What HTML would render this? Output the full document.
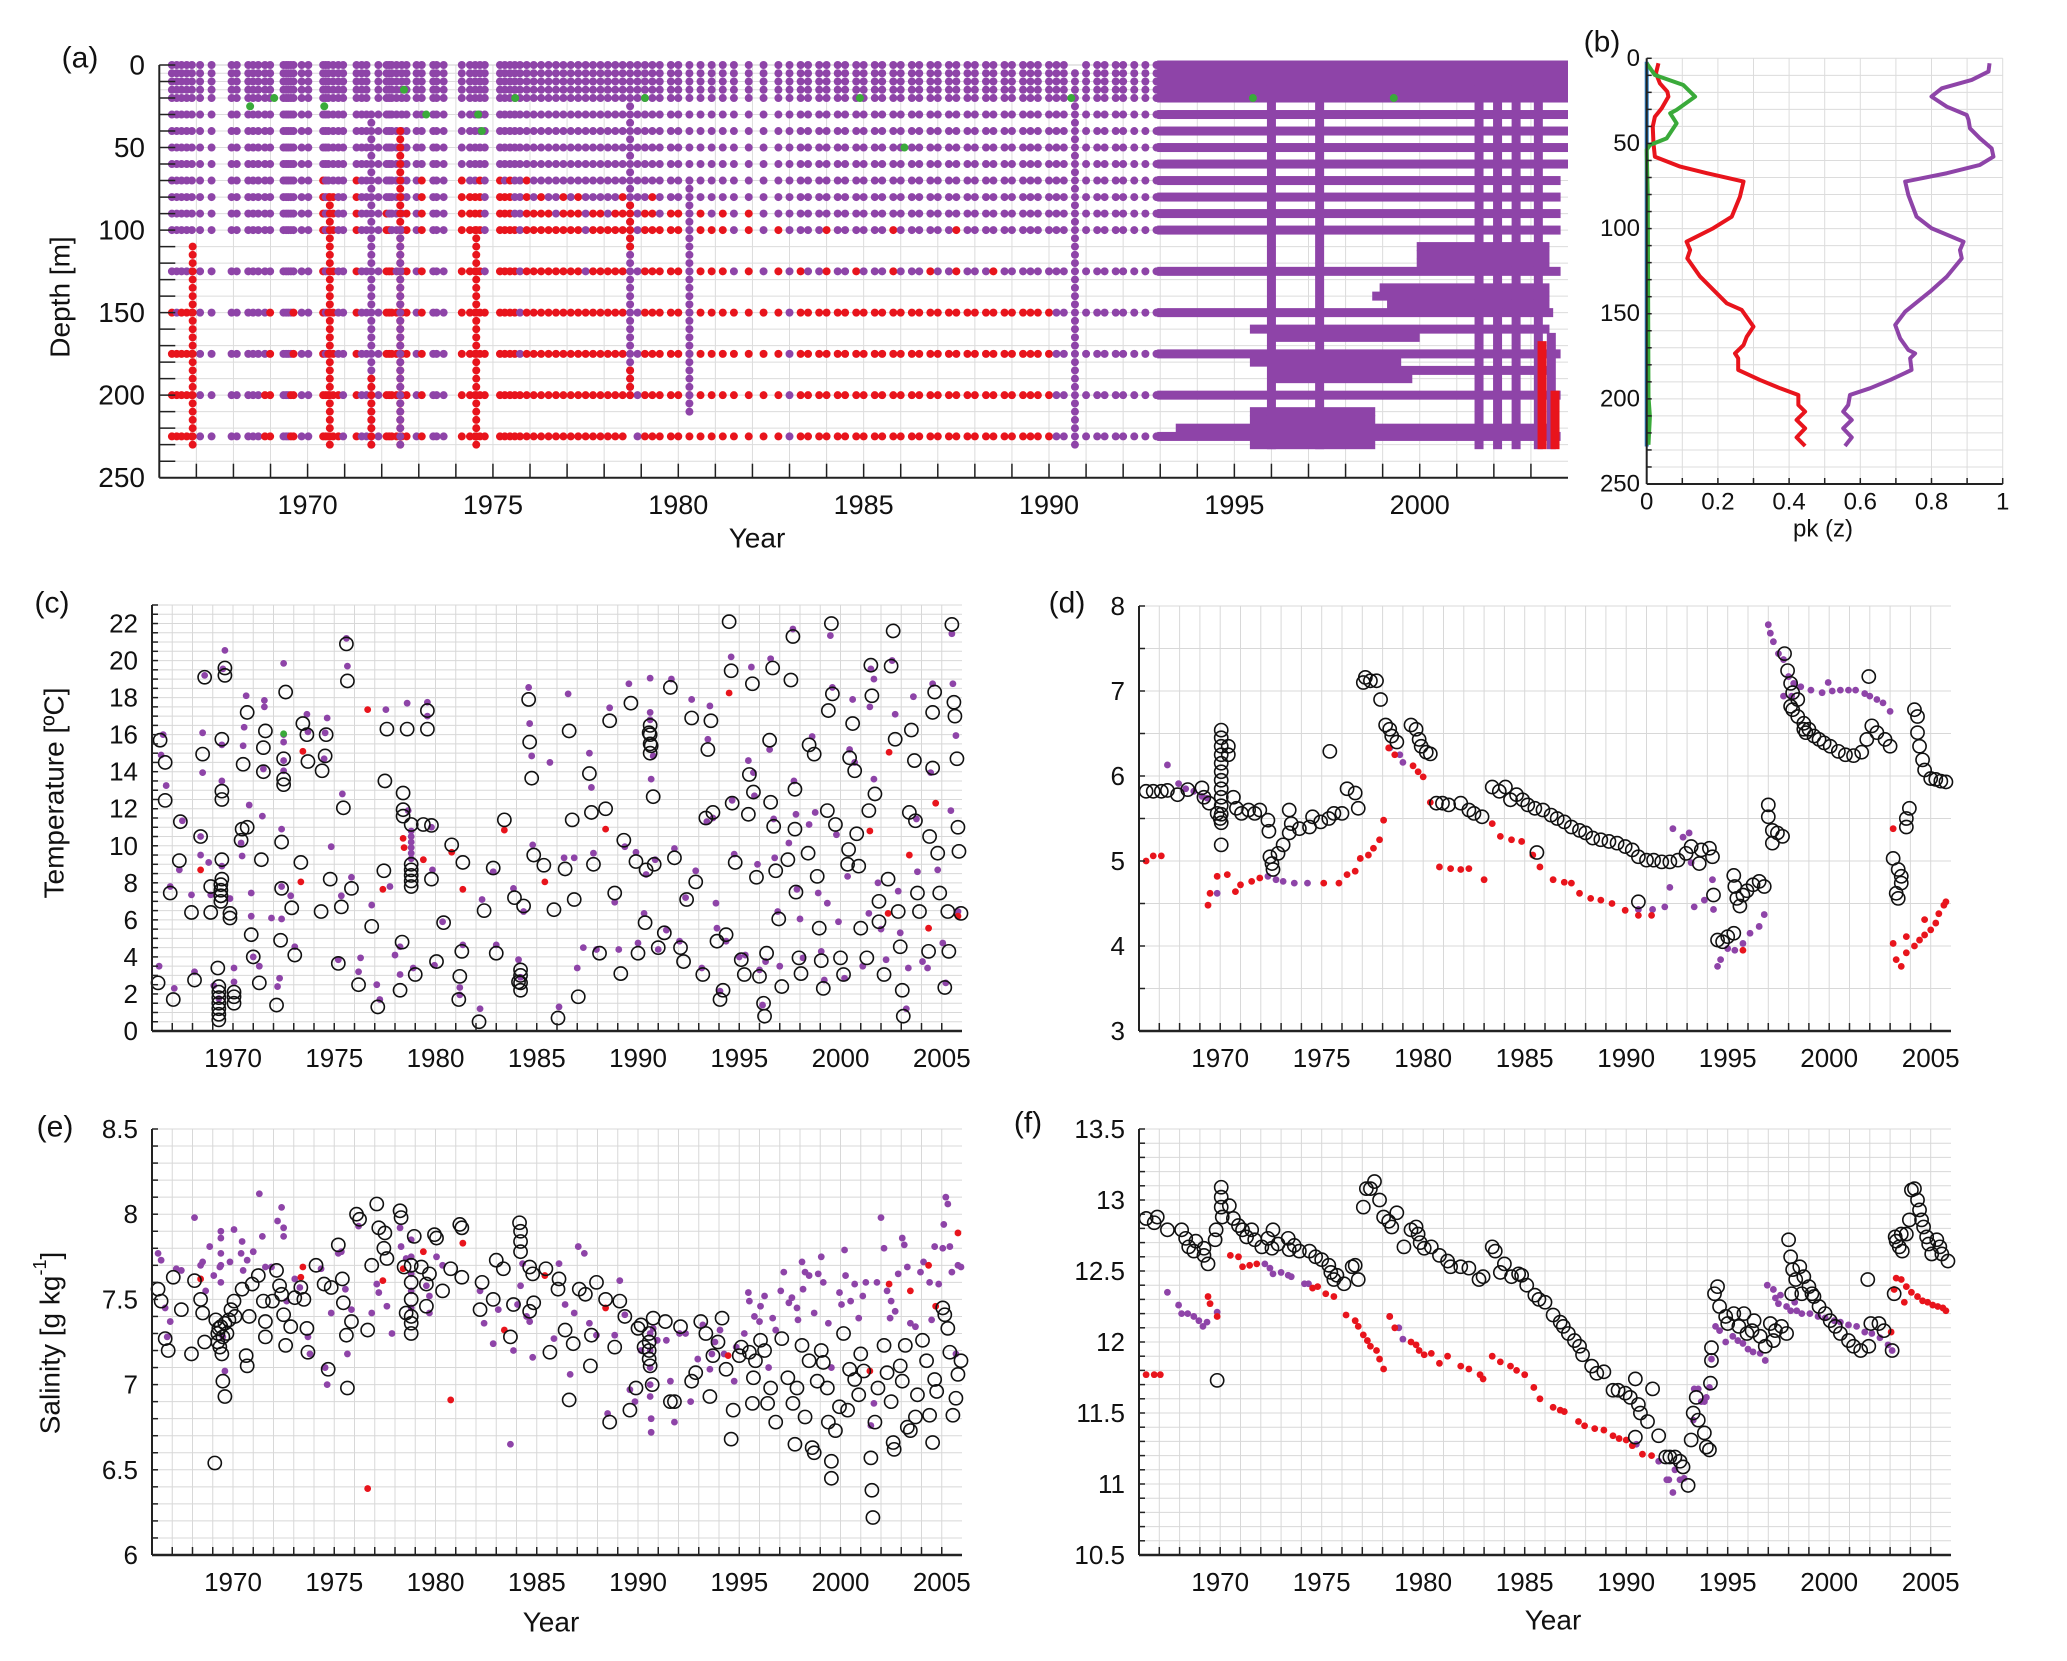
<!DOCTYPE html>
<html><head><meta charset="utf-8"><style>
html,body{margin:0;padding:0;background:#fff;}
svg{display:block;font-family:"Liberation Sans",sans-serif;}
</style></head><body>
<svg id="fig" xmlns="http://www.w3.org/2000/svg" width="2067" height="1661" viewBox="0 0 2067 1661"></svg>
<script>
// ---------- Panel (a) data ----------
const aDepths=[0,5,10,15,20,30,40,50,60,70,80,90,100,125,150,175,200,225];
const aCastYears=[1966.34,1966.47,1966.6,1966.74,1966.88,1967.1,1967.41,1967.95,1968.09,1968.4,1968.53,1968.67,1968.85,1968.99,1969.35,1969.42,1969.48,1969.55,1969.62,1969.84,1970.02,1970.42,1970.49,1970.56,1970.69,1970.83,1970.96,1971.32,1971.46,1971.59,1971.91,1972.13,1972.2,1972.27,1972.4,1972.54,1972.67,1972.94,1973.08,1973.39,1973.48,1973.67,1974.16,1974.38,1974.52,1974.65,1974.78,1975.19,1975.32,1975.46,1975.59,1975.73,1975.91,
1976.1,1976.3,1976.5,1976.7,1976.9,1977.1,1977.3,1977.5,1977.7,1977.9,1978.1,1978.3,1978.5,1978.9,1979.1,1979.3,1979.5,1979.8,1980.0,1980.3,1980.6,1980.9,1981.2,1981.5,1981.9,1982.3,1982.7,1983.0,1983.3,1983.5,1983.8,1984.0,1984.3,1984.5,1984.8,1985.0,1985.3,1985.5,1985.8,1986.0,1986.3,1986.5,1986.8,1987.0,1987.3,1987.5,1987.8,1988.0,1988.3,1988.5,1988.8,1989.0,1989.3,1989.5,1989.7,1990.0,1990.2,1990.4,1991.0,1991.3,1991.5,1991.8,1992.0,1992.3,1992.6,1992.9];
const aCastRedFrom=[150,175,150,150,150,999,999,999,999,999,999,999,200,150,999,999,999,200,150,999,999,70,200,150,80,200,999,70,999,999,999,90,100,125,150,150,90,999,70,999,999,999,70,80,80,70,150,70,80,70,100,200,70,
90,80,90,100,80,90,80,150,90,90,100,90,80,999,90,80,100,90,90,150,90,100,90,150,90,150,100,999,125,150,150,100,150,150,125,150,150,150,100,150,150,150,125,150,150,100,150,150,150,125,150,150,150,150,150,150,999,999,999,999,999,999,999,999,999];
const aProfiles=[[1966.9,'r',110,230],[1970.6,'r',80,230],[1971.72,'p',30,230],[1971.72,'r',190,230],[1972.5,'r',40,230],[1972.5,'p',100,230],[1974.55,'r',100,230],[1978.7,'p',0,200],[1978.7,'r',85,110],[1978.7,'r',185,200],[1980.3,'p',70,210],[1990.7,'p',5,230]];
const aGreen=[[1968.45,25],[1969.1,20],[1970.45,25],[1972.6,15],[1973.2,30],[1974.6,30],[1974.7,40],[1975.6,20],[1979.1,20],[1984.9,20],[1986.1,50],[1990.6,20],[1995.5,20],[1999.3,20]];
const aRows=[[1993.0,2004.0,0],[1993.0,2004.0,5],[1993.0,2004.0,10],[1993.0,2004.0,15],[1993.0,2004.0,20],[1993.0,2004.0,30],[1993.0,2004.0,40],[1993.0,2004.0,50],[1993.0,2004.0,60],[1993.0,2003.8,70],[1993.0,2003.8,80],[1993.0,2003.8,90],[1993.0,2003.8,100],[2000.0,2003.5,110],[2000.0,2003.5,115],[2000.0,2003.5,120],[1993.0,2003.8,125],[1999.0,2003.5,135],[1998.8,2003.5,140],[1999.2,2003.5,145],[1993.0,2003.6,150],[1995.5,2003.5,160],[1996.0,2000.0,165],[1993.0,2003.8,175],[1995.5,1999.5,180],[1996.0,2003.5,185],[1996.0,1999.8,190],[1993.0,2003.8,200],[1995.5,1998.8,210],[1995.5,1998.8,215],[1993.5,2003.6,220],[1993.0,2003.8,225],[1995.5,1998.8,230]];
const aBars=[[1996.0,0,230,'p'],[1997.3,0,230,'p'],[2001.6,0,230,'p'],[2002.1,0,230,'p'],[2002.6,0,230,'p'],[2003.2,0,230,'p'],[2003.55,165,230,'p'],[2003.3,170,230,'r'],[2003.65,200,230,'r']];

// ---------- Panel (b) data ----------
const bPurple=[[0.963,2.9],[0.96,7.8],[0.913,12.7],[0.829,17.6],[0.8,22.5],[0.843,28.4],[0.899,33.3],[0.904,36.2],[0.908,41.1],[0.936,47],[0.969,52.9],[0.974,57.8],[0.936,62.6],[0.843,67.5],[0.726,72.4],[0.735,80.3],[0.758,93],[0.8,99.8],[0.89,107.7],[0.88,112.6],[0.885,117.5],[0.843,128.2],[0.796,137],[0.749,144.9],[0.726,148.8],[0.698,156.6],[0.712,164.5],[0.735,171.3],[0.754,173.3],[0.74,176.2],[0.744,183],[0.684,188.9],[0.627,193.8],[0.571,197.7],[0.566,203.6],[0.552,207.5],[0.576,212.4],[0.552,217.3],[0.576,222.6],[0.557,227.7]];
const bRed=[[0.033,2.9],[0.026,8.8],[0.037,14.7],[0.058,19.6],[0.061,22.5],[0.042,29.4],[0.023,34.3],[0.017,40.1],[0.019,49.9],[0.023,57.8],[0.094,63.6],[0.169,67.5],[0.272,72.4],[0.262,81.2],[0.239,93],[0.187,99.8],[0.112,107.7],[0.122,112.6],[0.114,117.5],[0.15,128.2],[0.192,137],[0.225,143.9],[0.267,147.8],[0.3,157.6],[0.281,163.5],[0.272,168.4],[0.248,173.3],[0.257,176.2],[0.257,183],[0.318,188.9],[0.375,193.8],[0.426,197.7],[0.426,203.6],[0.445,207.5],[0.421,212.4],[0.445,217.3],[0.421,222.6],[0.445,227.7]];
const bGreen=[[0,2.9],[0.023,9.8],[0.103,15.7],[0.136,22.5],[0.084,30.3],[0.066,32.3],[0.084,38.2],[0.056,47],[0.009,50.9],[0,53.8],[0.003,81.2],[0.005,198.7],[0.009,210.4],[0.005,227]];
const bBlue=[[0,2],[0,228]];

// ---------- Panel (c) temperature scatter ----------
const cBlack=[[1966.4,15.7],[1966.65,14.5],[1966.65,12.45],[1967.4,11.3],[1967.35,9.2],[1966.3,2.6],[1967.05,1.7],[1966.9,7.45],[1967.95,6.4],[1968.1,2.75],[1968.4,10.5],[1968.5,14.95],[1968.6,19.1],[1969.6,19.2],[1969.6,19.6],[1969.45,15.75],[1969.45,12.95],[1969.45,12.5],[1968.9,7.8],[1968.9,6.4],[1969.45,9.25],[1969.45,8.2],[1969.4,7.3],[1969.85,6.35],[1969.85,6.1],[1969.25,3.4],[1970.05,1.85],[1970.7,17.2],[1970.5,14.4],[1970.45,10.9],[1970.7,11.0],[1970.4,10.3],[1971.4,9.25],[1971.6,16.2],[1971.5,15.3],[1971.5,14.0],[1972.5,14.7],[1972.5,13.6],[1972.5,13.3],[1972.6,18.3],[1972.4,10.2],[1972.4,7.7],[1972.9,6.65],[1970.9,5.2],[1971.0,4.0],[1971.3,2.6],[1972.15,1.4],[1972.35,4.9],[1973.05,4.1],[1973.35,9.1],[1973.45,16.6],[1973.65,16.0],[1973.7,14.55],[1974.4,14.05],[1974.55,14.85],[1974.6,16.0],[1974.8,8.2],[1974.35,6.45],[1975.35,6.7],[1975.85,7.7],[1975.6,20.9],[1975.65,18.9],[1975.45,12.05],[1975.2,3.65],[1976.2,2.5],[1976.85,5.65],[1977.15,1.3],[1977.45,8.65],[1977.5,13.5],[1977.6,16.3],[1978.25,2.2],[1978.35,4.8],[1978.4,12.85],[1978.4,11.95],[1978.4,11.6],[1978.8,11.15],[1978.6,16.3],[1979.6,16.3],[1979.6,17.3],[1979.4,11.15],[1979.8,11.1],[1979.8,8.2],[1979.0,3.05],[1980.05,3.75],[1980.4,5.85],[1980.8,10.05],[1981.35,9.1],[1981.2,2.95],[1981.15,1.7],[1981.3,4.3],[1982.15,0.5],[1982.4,6.5],[1982.85,8.8],[1983.0,4.2],[1983.4,11.4],[1983.9,7.2],[1984.35,6.75],[1984.1,2.65],[1984.2,2.2],[1984.6,17.9],[1984.65,15.6],[1984.75,13.65],[1984.85,9.5],[1985.35,8.95],[1985.85,6.55],[1986.05,0.7],[1986.4,8.75],[1986.6,16.2],[1986.75,11.4],[1986.85,7.1],[1987.05,1.85],[1987.6,13.9],[1987.7,11.8],[1987.8,9.0],[1988.1,4.2],[1988.4,12.0],[1988.6,16.75],[1988.85,7.45],[1989.15,3.1],[1989.3,10.3],[1989.65,17.7],[1989.9,9.15],[1990.0,4.2],[1990.35,5.85],[1990.4,8.7],[1990.55,16.1],[1990.65,15.4],[1990.75,12.65],[1990.8,9.0],[1991.0,4.5],[1991.3,5.3],[1991.6,18.55],[1991.8,9.35],[1992.1,4.5],[1992.25,3.75],[1992.4,7.1],[1992.65,16.9],[1992.85,8.05],[1993.2,3.05],[1993.35,11.5],[1993.45,15.2],[1993.6,16.75],[1993.7,11.8],[1993.9,4.85],[1994.2,2.2],[1994.05,1.7],[1994.35,5.2],[1994.5,22.1],[1994.6,19.45],[1994.65,12.3],[1994.8,9.1],[1995.1,3.85],[1995.25,3.05],[1995.45,11.7],[1995.5,13.85],[1995.65,18.75],[1995.7,12.9],[1995.85,8.3],[1996.0,2.95],[1996.2,1.5],[1996.25,0.8],[1996.35,4.2],[1996.5,15.7],[1996.55,12.35],[1996.65,19.6],[1996.7,11.05],[1996.8,8.65],[1996.95,6.05],[1997.1,2.4],[1997.4,9.25],[1997.55,18.95],[1997.65,21.3],[1997.75,10.9],[1997.75,13.05],[1997.8,7.5],[1997.95,3.95],[1998.05,3.1],[1998.4,9.6],[1998.45,15.45],[1998.7,14.95],[1998.85,8.35],[1998.95,5.55],[1999.05,3.8],[1999.15,2.3],[1999.35,11.9],[1999.4,17.3],[1999.55,22.0],[1999.6,18.2],[1999.75,11.15],[2000.0,3.95],[2000.15,3.05],[2000.35,9.0],[2000.4,9.8],[2000.45,14.75],[2000.6,16.6],[2000.7,14.05],[2000.8,10.65],[2000.9,8.9],[2001.0,5.55],[2001.3,3.95],[2001.4,11.9],[2001.5,19.75],[2001.55,18.1],[2001.7,12.8],[2001.9,7.0],[2001.9,5.9],[2002.15,3.05],[2002.35,8.2],[2002.5,19.7],[2002.6,21.6],[2002.7,15.75],[2002.85,6.45],[2002.95,4.55],[2003.05,2.2],[2003.1,0.8],[2003.4,11.8],[2003.5,16.25],[2003.65,14.6],[2003.7,11.35],[2003.8,7.45],[2003.9,6.45],[2004.35,4.3],[2004.4,10.5],[2004.55,14.2],[2004.65,18.3],[2004.55,17.2],[2004.8,9.6],[2004.9,7.45],[2005.15,2.35],[2005.3,6.45],[2005.35,4.3],[2005.5,21.95],[2005.6,17.75],[2005.65,17.0],[2005.75,14.7],[2005.8,11.0],[2005.85,9.7],[2005.95,6.35],
[1969.3,0.6],[1969.3,0.9],[1969.3,1.2],[1969.3,1.5],[1969.3,1.8],[1969.3,2.1],[1969.3,2.4],[1969.4,7.0],[1969.4,7.3],[1969.4,7.6],[1969.4,7.9],[1970.05,1.5],[1970.05,2.1],[1978.8,7.8],[1978.8,8.1],[1978.8,8.4],[1978.8,8.7],[1978.8,9.0],[1990.6,15.0],[1990.6,15.5],[1990.6,16.0],[1990.6,16.5],[1984.2,2.6],[1984.2,3.0],[1984.2,3.3]];
const cPurple=[[1966.55,16.0],[1966.45,14.9],[1966.7,13.25],[1966.35,3.5],[1967.1,2.3],[1967.5,11.35],[1967.35,8.7],[1966.9,7.8],[1967.95,7.35],[1968.1,3.2],[1968.4,10.5],[1968.5,16.1],[1968.5,13.95],[1968.4,9.5],[1968.6,19.2],[1969.6,20.55],[1969.5,19.55],[1969.45,15.45],[1969.45,13.5],[1969.45,8.9],[1968.9,7.35],[1968.8,9.1],[1969.85,7.15],[1970.05,3.4],[1970.05,2.65],[1969.05,2.45],[1969.3,1.75],[1970.65,18.1],[1970.5,15.4],[1970.55,16.4],[1970.8,12.2],[1971.45,11.6],[1971.55,17.85],[1971.55,17.5],[1970.4,10.15],[1970.45,9.45],[1971.5,14.15],[1972.5,19.85],[1972.5,16.0],[1972.5,15.6],[1972.5,14.6],[1972.5,14.05],[1972.4,10.9],[1972.4,7.8],[1972.85,7.3],[1970.9,7.45],[1970.9,6.2],[1971.0,4.0],[1971.3,3.5],[1971.9,6.1],[1972.4,6.05],[1972.3,2.85],[1972.2,2.4],[1973.05,4.55],[1973.65,17.1],[1973.7,16.15],[1974.55,16.1],[1974.65,16.9],[1974.5,14.7],[1974.85,9.95],[1975.35,7.3],[1975.4,12.8],[1975.85,8.3],[1975.6,21.2],[1975.65,19.7],[1975.2,3.85],[1976.2,3.2],[1976.3,3.95],[1976.85,6.8],[1977.1,2.5],[1977.25,1.7],[1977.55,17.35],[1977.75,7.8],[1978.0,4.1],[1978.25,4.55],[1978.25,3.05],[1978.6,17.7],[1978.65,11.9],[1978.9,3.4],[1979.6,17.75],[1979.6,17.0],[1979.8,11.0],[1979.85,8.7],[1980.35,5.9],[1979.95,3.55],[1981.2,2.35],[1981.35,4.65],[1981.2,1.95],[1982.2,1.2],[1982.3,7.1],[1982.85,8.6],[1983.0,4.65],[1983.85,7.7],[1984.1,3.85],[1984.35,6.45],[1984.6,18.55],[1984.65,16.6],[1984.75,14.85],[1984.8,10.05],[1985.65,14.5],[1986.1,1.3],[1986.35,9.35],[1986.55,18.2],[1986.85,9.35],[1987.0,3.4],[1987.3,4.5],[1987.6,15.0],[1987.7,13.15],[1987.8,9.6],[1987.95,4.4],[1988.6,17.45],[1988.85,6.95],[1989.05,4.4],[1989.35,9.95],[1989.55,18.75],[1989.9,9.65],[1990.0,4.75],[1990.3,6.35],[1990.4,8.45],[1990.6,19.05],[1990.65,13.6],[1990.75,14.85],[1990.85,9.25],[1991.0,4.4],[1991.4,5.45],[1991.65,19.0],[1991.8,9.85],[1992.05,4.85],[1992.35,7.2],[1992.65,17.9],[1992.85,8.65],[1993.15,3.4],[1993.4,11.3],[1993.55,17.55],[1993.45,15.75],[1993.7,11.5],[1993.85,6.9],[1993.9,5.55],[1994.05,2.15],[1994.35,4.85],[1994.6,20.2],[1994.65,12.45],[1994.75,9.55],[1995.0,4.0],[1995.3,4.1],[1995.45,14.6],[1995.6,19.65],[1995.7,13.95],[1995.75,12.7],[1995.9,9.0],[1996.0,3.3],[1996.15,1.4],[1996.3,3.75],[1996.55,20.1],[1996.5,15.2],[1996.7,11.45],[1996.75,9.35],[1996.9,6.45],[1997.0,3.5],[1997.45,10.15],[1997.65,21.7],[1997.7,13.5],[1997.8,11.7],[1997.85,7.65],[1998.0,6.05],[1998.15,3.95],[1998.45,11.15],[1998.6,15.9],[1998.75,11.8],[1998.9,7.45],[1999.05,4.3],[1999.2,2.75],[1999.35,6.9],[1999.5,21.35],[1999.6,18.55],[1999.8,10.6],[1999.9,5.9],[2000.2,2.85],[2000.35,8.35],[2000.45,15.2],[2000.6,17.9],[2000.7,14.5],[2001.1,3.5],[2001.4,6.35],[2001.5,19.55],[2001.65,19.0],[2001.65,13.6],[2001.45,17.5],[2001.85,8.0],[2002.0,5.5],[2002.25,3.85],[2002.55,20.0],[2002.7,17.1],[2002.85,7.55],[2002.95,5.3],[2003.25,1.2],[2003.35,3.4],[2003.6,18.05],[2003.75,11.45],[2003.8,8.6],[2004.05,3.75],[2004.3,3.4],[2004.45,13.95],[2004.55,18.75],[2004.8,8.7],[2005.05,4.75],[2005.2,2.6],[2005.5,21.45],[2005.55,18.75],[2005.45,11.9],[2005.7,15.95],[2005.8,6.45],
[1978.8,9.3],[1978.8,9.6],[1978.8,9.9],[1978.8,10.2],[1978.8,10.5],[1978.8,10.8],[1990.6,16.8],[1990.6,17.2],[1984.2,2.9]];
const cRed=[[1968.4,8.7],[1973.35,8.05],[1973.45,15.1],[1976.65,17.35],[1977.4,7.65],[1978.4,10.4],[1978.45,9.9],[1979.4,9.25],[1980.8,9.65],[1981.35,7.65],[1983.4,10.85],[1985.4,8.05],[1988.4,10.9],[1994.5,18.25],[2002.4,15.05],[2001.45,10.8],[2002.35,6.35],[2003.4,9.5],[2004.35,5.55],[2004.7,12.3],[2005.8,6.2]];
const cGreen=[[1972.5,16.05]];

// ---------- Panel (d) deep temperature ----------
const dBlack=[[1966.35,5.82],[1966.7,5.82],[1967.1,5.82],[1967.4,5.83],[1967.9,5.78],[1968.4,5.84],[1969.1,5.86],[1969.2,5.75],[1969.45,5.68],[1969.85,5.56],[1970.0,5.5],[1970.05,6.54],[1970.05,6.45],[1970.05,6.35],[1970.05,6.25],[1970.05,6.15],[1970.05,6.05],[1970.05,5.95],[1970.05,5.85],[1970.05,5.75],[1970.05,5.65],[1970.05,5.55],[1970.05,5.45],[1970.4,6.35],[1970.4,6.25],[1970.65,5.75],[1970.8,5.62],[1971.05,5.56],[1971.4,5.6],[1971.7,5.56],[1971.95,5.6],[1972.35,5.48],[1972.4,5.35],[1970.05,5.19],[1972.45,5.05],[1972.55,4.97],[1972.6,4.9],[1972.85,5.09],[1973.1,5.19],[1973.4,5.33],[1973.4,5.6],[1973.5,5.44],[1973.9,5.38],[1974.4,5.4],[1974.55,5.52],[1974.95,5.46],[1975.35,5.5],[1975.6,5.56],[1976.0,5.56],[1976.25,5.85],[1976.65,5.8],[1976.8,5.62],[1975.4,6.29],[1977.05,7.1],[1977.15,7.16],[1977.4,7.12],[1977.7,7.12],[1977.9,6.9],[1978.15,6.6],[1978.35,6.55],[1978.45,6.47],[1978.7,6.4],[1979.4,6.6],[1979.65,6.55],[1979.8,6.43],[1979.9,6.35],[1980.15,6.28],[1980.35,6.26],[1980.65,5.68],[1980.95,5.68],[1981.25,5.66],[1981.85,5.68],[1982.25,5.6],[1982.5,5.56],[1982.9,5.52],[1983.4,5.87],[1983.75,5.82],[1984.05,5.87],[1984.3,5.72],[1984.6,5.78],[1984.9,5.72],[1985.15,5.66],[1985.5,5.62],[1985.9,5.6],[1986.3,5.54],[1986.6,5.5],[1986.95,5.46],[1987.3,5.4],[1987.7,5.36],[1988.0,5.33],[1988.35,5.27],[1988.75,5.25],[1989.15,5.23],[1989.55,5.21],[1989.95,5.17],[1990.3,5.13],[1990.6,5.05],[1991.0,5.01],[1991.35,5.01],[1991.75,4.99],[1992.15,4.99],[1992.55,5.01],[1992.95,5.09],[1993.2,5.17],[1993.7,5.13],[1994.1,5.15],[1994.25,5.05],[1993.6,4.97],[1994.3,4.6],[1990.6,4.52],[1985.6,5.1],[1994.5,4.07],[1994.75,4.05],[1995.0,4.11],[1995.3,4.15],[1995.3,4.83],[1995.35,4.7],[1995.45,4.56],[1995.75,4.6],[1995.95,4.65],[1996.25,4.72],[1996.55,4.76],[1996.8,4.7],[1995.6,4.47],[1997.0,5.66],[1997.0,5.52],[1997.2,5.36],[1997.45,5.33],[1997.7,5.29],[1997.2,5.21],[1997.8,7.44],[1997.95,7.24],[1998.1,7.09],[1998.2,6.78],[1998.45,6.7],[1998.75,6.62],[1999.0,6.55],[1999.25,6.47],[1999.5,6.43],[1999.75,6.39],[2000.05,6.35],[2000.45,6.29],[2000.8,6.25],[2001.2,6.24],[2001.6,6.28],[2001.85,6.43],[2002.1,6.59],[2002.35,6.51],[2002.75,6.43],[2003.0,6.35],[1998.2,6.98],[1998.45,6.9],[1998.75,6.55],[1998.85,6.51],[1998.1,6.82],[2001.95,7.17],[2004.2,6.78],[2004.35,6.7],[2004.35,6.51],[2004.45,6.35],[2004.6,6.19],[2004.7,6.07],[2005.0,5.97],[2005.25,5.96],[2005.5,5.94],[2005.75,5.93],[2003.15,5.03],[2003.4,4.9],[2003.55,4.74],[2003.3,4.62],[2003.4,4.56],[2003.55,4.82],[2003.8,5.5],[2003.95,5.62],[2003.8,5.4]];
const dPurple=[[1967.4,6.13],[1967.95,5.91],[1968.3,5.85],[1968.7,5.82],[1969.1,5.76],[1969.35,5.74],[1969.85,4.62],[1972.35,4.82],[1972.75,4.78],[1973.1,4.76],[1973.65,4.74],[1974.3,4.74],[1978.35,6.33],[1978.85,6.25],[1979.0,6.16],[1992.3,5.38],[1992.8,5.28],[1993.1,5.33],[1993.2,4.98],[1993.35,4.46],[1993.85,4.54],[1994.25,4.78],[1994.3,4.43],[1992.15,4.69],[1994.5,3.76],[1994.65,3.84],[1995.0,3.97],[1995.35,3.95],[1995.75,4.03],[1996.1,4.15],[1996.55,4.23],[1996.8,4.37],[1997.0,7.78],[1997.1,7.68],[1997.25,7.58],[1997.5,7.44],[1997.75,7.37],[1998.0,7.17],[1998.25,7.09],[1998.6,7.05],[1999.1,7.01],[1999.65,6.98],[1999.95,7.1],[2000.15,7.0],[2000.55,7.01],[2000.95,7.01],[2001.3,7.01],[2001.75,6.97],[2002.0,6.94],[2002.35,6.9],[2002.65,6.86],[2003.0,6.76],[1997.75,6.94],[1998.15,6.94],[1990.6,4.43],[1991.3,4.43],[1991.9,4.46]];
const dRed=[[1966.35,5.0],[1966.7,5.06],[1967.1,5.06],[1969.4,4.48],[1969.5,4.62],[1969.85,4.82],[1970.35,4.84],[1970.75,4.64],[1971.0,4.72],[1971.55,4.76],[1971.95,4.8],[1975.1,4.74],[1975.85,4.74],[1976.25,4.84],[1976.65,4.88],[1976.9,5.03],[1977.3,5.07],[1977.55,5.15],[1977.85,5.25],[1978.05,5.48],[1978.3,6.33],[1978.6,6.25],[1979.5,6.12],[1979.75,6.05],[1980.0,5.99],[1980.35,5.69],[1980.8,4.93],[1981.35,4.91],[1981.85,4.9],[1982.25,4.91],[1983.0,4.78],[1983.4,5.44],[1983.8,5.29],[1984.35,5.25],[1984.85,5.23],[1985.4,5.07],[1985.75,4.93],[1986.4,4.78],[1986.95,4.75],[1987.3,4.74],[1987.7,4.62],[1988.25,4.56],[1988.75,4.54],[1989.3,4.5],[1989.95,4.42],[1990.6,4.36],[1991.25,4.36],[1995.75,3.95],[2003.15,5.38],[2003.15,4.03],[2003.3,3.84],[2003.55,3.76],[2003.8,3.92],[2004.2,4.0],[2004.45,4.07],[2004.7,4.13],[2005.0,4.19],[2005.25,4.27],[2005.4,4.38],[2005.65,4.48],[2005.75,4.52],[2003.8,4.11],[2004.7,4.31]];

// ---------- Panel (e) salinity scatter ----------
const eBlack=[[1966.3,7.56],[1966.45,7.49],[1966.65,7.27],[1966.8,7.2],[1967.05,7.63],[1967.45,7.44],[1967.95,7.18],[1968.1,7.61],[1968.4,7.5],[1968.5,7.42],[1968.6,7.25],[1969.1,6.54],[1969.15,7.38],[1969.25,7.3],[1969.4,7.34],[1969.45,7.18],[1969.5,7.02],[1969.6,6.93],[1969.8,7.38],[1969.9,7.44],[1970.05,7.49],[1970.1,7.4],[1970.45,7.56],[1970.65,7.17],[1970.7,7.11],[1970.8,7.4],[1970.95,7.59],[1971.25,7.64],[1971.5,7.49],[1971.6,7.37],[1971.6,7.28],[1971.95,7.49],[1972.15,7.67],[1972.3,7.58],[1972.4,7.53],[1972.5,7.41],[1972.6,7.23],[1972.85,7.34],[1973.05,7.51],[1973.35,7.57],[1973.5,7.5],[1973.65,7.33],[1973.7,7.19],[1974.1,7.7],[1974.5,7.59],[1974.7,7.09],[1974.85,7.57],[1975.2,7.82],[1975.4,7.62],[1975.45,7.48],[1975.6,7.29],[1975.65,6.98],[1975.85,7.37],[1976.1,8.0],[1976.25,7.97],[1976.65,7.32],[1976.85,7.7],[1977.1,8.06],[1977.2,7.92],[1977.45,7.8],[1977.5,7.89],[1977.6,7.74],[1978.25,8.02],[1978.3,7.98],[1978.45,7.69],[1978.55,7.42],[1978.8,7.36],[1978.8,7.3],[1978.95,7.87],[1979.3,7.69],[1979.55,7.59],[1979.55,7.46],[1979.7,7.65],[1979.95,7.88],[1980.05,7.86],[1980.35,7.55],[1980.75,7.68],[1981.2,7.94],[1981.3,7.92],[1981.3,7.63],[1982.2,7.44],[1982.3,7.6],[1982.85,7.5],[1983.0,7.73],[1983.35,7.68],[1983.7,7.28],[1983.85,7.47],[1984.15,7.95],[1984.2,7.9],[1984.2,7.84],[1984.2,7.78],[1984.65,7.69],[1984.8,7.65],[1984.65,7.43],[1984.85,7.48],[1985.45,7.68],[1985.65,7.19],[1986.05,7.56],[1986.1,7.62],[1986.4,7.32],[1986.6,6.91],[1986.8,7.24],[1987.1,7.56],[1987.4,7.53],[1987.65,7.11],[1987.7,7.29],[1987.95,7.6],[1988.4,7.5],[1988.6,6.78],[1988.85,7.22],[1989.1,7.49],[1989.35,7.4],[1989.6,6.85],[1989.9,6.98],[1990.0,7.33],[1990.15,7.35],[1990.3,7.22],[1990.55,7.2],[1990.6,7.11],[1990.7,7.0],[1990.75,7.39],[1991.35,7.37],[1991.6,6.9],[1991.8,6.9],[1992.1,7.34],[1992.65,7.02],[1992.85,7.07],[1993.1,7.37],[1993.35,7.3],[1993.55,6.93],[1993.7,7.17],[1993.95,7.25],[1994.15,7.39],[1994.35,7.09],[1994.6,6.68],[1994.7,6.85],[1995.0,7.17],[1995.1,7.22],[1995.5,7.19],[1995.65,6.89],[1995.7,7.04],[1995.8,7.14],[1996.05,7.26],[1996.25,7.2],[1996.4,6.89],[1996.55,6.98],[1996.8,6.78],[1997.1,7.27],[1997.4,7.04],[1997.65,6.89],[1997.75,6.65],[1997.85,6.98],[1998.1,7.23],[1998.25,6.81],[1998.45,7.14],[1998.6,6.63],[1998.7,6.6],[1998.85,7.02],[1999.05,7.2],[1999.15,7.13],[1999.35,6.98],[1999.4,6.78],[1999.55,6.55],[1999.55,6.45],[1999.75,6.73],[1999.95,6.87],[2000.15,7.3],[2000.35,6.85],[2000.45,7.09],[2000.7,7.03],[2000.9,6.94],[2001.0,7.18],[2001.15,7.08],[2001.5,6.57],[2001.55,6.38],[2001.6,6.22],[2001.7,6.78],[2001.85,6.98],[2002.15,7.23],[2002.3,7.07],[2002.5,6.9],[2002.6,6.66],[2002.65,6.62],[2002.95,7.11],[2003.05,7.02],[2003.2,7.23],[2003.3,6.75],[2003.45,6.73],[2003.7,6.81],[2003.8,6.94],[2004.05,7.26],[2004.25,7.14],[2004.4,6.82],[2004.55,6.66],[2004.65,7.03],[2004.75,6.96],[2005.05,7.45],[2005.15,7.41],[2005.3,7.33],[2005.4,7.19],[2005.55,6.82],[2005.7,6.92],[2005.8,7.06],[2005.95,7.14],
[1969.25,7.25],[1969.3,7.33],[1969.35,7.22],[1969.5,7.28],[1969.6,7.36],[1969.7,7.3],[1978.8,7.4],[1978.8,7.5],[1978.8,7.6],[1978.8,7.7],[1990.55,7.25],[1990.55,7.15],[1990.55,7.3]];
const ePurple=[[1966.3,7.77],[1966.45,7.73],[1966.65,7.45],[1966.75,7.28],[1966.9,7.37],[1967.2,7.68],[1967.45,7.67],[1968.1,7.98],[1968.4,7.7],[1968.5,7.72],[1968.65,7.55],[1968.85,7.81],[1969.05,7.64],[1969.4,7.86],[1969.4,7.77],[1969.35,7.69],[1969.5,7.28],[1969.6,7.08],[1969.85,7.72],[1970.05,7.91],[1970.4,7.77],[1970.45,7.84],[1970.5,7.67],[1970.7,7.73],[1971.0,7.78],[1971.3,8.12],[1971.45,7.87],[1971.6,7.69],[1971.9,7.69],[1972.2,7.96],[1972.4,8.04],[1972.5,7.92],[1972.5,7.87],[1972.65,7.49],[1973.05,7.62],[1973.3,7.57],[1973.7,7.28],[1973.8,7.18],[1974.35,7.68],[1974.55,7.1],[1974.65,7.0],[1974.85,7.42],[1975.2,7.77],[1975.35,7.78],[1975.55,7.56],[1975.65,7.18],[1975.85,7.44],[1976.2,7.93],[1976.85,7.42],[1977.1,7.59],[1977.2,7.54],[1977.6,7.46],[1977.85,7.3],[1978.25,7.92],[1978.3,7.81],[1978.55,7.74],[1979.55,7.58],[1979.7,7.52],[1979.7,7.42],[1980.05,7.75],[1980.35,7.7],[1982.2,7.55],[1982.4,7.36],[1982.85,7.24],[1983.1,7.44],[1983.7,6.65],[1983.85,7.2],[1984.05,7.47],[1984.2,7.58],[1984.3,7.71],[1984.5,7.4],[1984.65,7.37],[1984.8,7.16],[1985.85,7.27],[1986.1,7.71],[1986.4,7.47],[1986.65,7.06],[1986.85,7.42],[1987.05,7.81],[1987.35,7.77],[1987.6,7.36],[1987.95,7.29],[1988.5,6.83],[1988.85,7.29],[1989.1,7.61],[1989.35,7.41],[1989.6,6.97],[1989.85,6.9],[1990.15,7.2],[1990.6,6.93],[1990.65,6.8],[1990.65,6.72],[1990.75,7.33],[1990.95,7.26],[1991.4,7.26],[1991.6,7.02],[1991.8,6.78],[1992.05,7.3],[1992.35,7.3],[1992.6,6.9],[1992.95,7.15],[1993.2,7.35],[1993.55,7.09],[1993.65,7.18],[1993.8,7.25],[1994.05,7.32],[1994.25,7.18],[1994.75,7.02],[1994.85,7.22],[1995.25,7.3],[1995.45,7.54],[1995.5,7.49],[1995.75,7.4],[1996.0,7.37],[1996.05,7.46],[1996.25,7.52],[1996.45,7.1],[1996.65,7.39],[1996.8,7.32],[1997.05,7.55],[1997.2,7.66],[1997.45,7.48],[1997.6,7.51],[1997.85,7.45],[1997.9,7.38],[1998.1,7.72],[1998.15,7.56],[1998.25,7.66],[1998.45,7.64],[1998.7,7.42],[1998.9,7.65],[1999.05,7.75],[1999.15,7.6],[1999.4,7.36],[1999.55,7.1],[1999.95,7.54],[2000.05,7.47],[2000.2,7.79],[2000.25,7.64],[2000.5,7.49],[2000.7,7.59],[2000.9,7.39],[2001.1,7.52],[2001.25,7.6],[2001.5,6.76],[2001.65,6.89],[2001.8,7.6],[2002.0,7.98],[2002.15,7.8],[2002.3,7.55],[2002.45,7.39],[2002.5,7.49],[2002.7,7.43],[2002.85,7.65],[2003.05,7.86],[2003.15,7.82],[2003.3,7.69],[2003.45,7.36],[2003.7,7.34],[2003.95,7.66],[2004.1,7.72],[2004.4,7.6],[2004.5,7.38],[2004.65,7.81],[2004.85,7.59],[2005.05,7.8],[2005.1,7.94],[2005.2,8.1],[2005.3,8.06],[2005.4,7.81],[2005.5,7.66],[2005.7,7.18],[2005.8,7.7],[2005.95,7.69],
[1969.4,7.6],[1969.4,7.7],[1969.4,7.9],[1978.8,7.45],[1978.8,7.55],[1978.8,7.65],[1978.8,7.75],[1978.8,7.85],[1990.6,7.0],[1990.6,7.1],[1990.6,7.2],[1990.6,7.3]];
const eRed=[[1968.4,7.62],[1973.35,7.63],[1973.45,7.69],[1976.65,6.39],[1977.4,7.61],[1978.4,7.68],[1979.4,7.78],[1980.75,6.91],[1981.35,7.83],[1983.4,7.32],[1985.4,7.64],[1988.4,7.45],[1994.45,7.17],[2001.45,7.08],[2002.4,7.59],[2003.45,7.55],[2004.35,7.7],[2004.7,7.46],[2005.8,7.89]];

// ---------- Panel (f) deep salinity ----------
const fBlack=[[1966.35,12.87],[1966.75,12.84],[1966.9,12.88],[1967.4,12.79],[1968.1,12.79],[1968.3,12.73],[1968.45,12.67],[1968.7,12.64],[1968.8,12.71],[1969.2,12.61],[1969.4,12.55],[1969.2,12.66],[1969.75,12.72],[1969.8,12.79],[1969.85,11.73],[1970.05,13.09],[1970.05,13.02],[1970.05,12.95],[1970.1,12.88],[1970.45,12.96],[1970.65,12.87],[1970.9,12.82],[1971.1,12.79],[1971.3,12.74],[1971.55,12.79],[1971.7,12.72],[1972.05,12.67],[1972.35,12.73],[1972.6,12.79],[1972.55,12.66],[1972.85,12.69],[1973.35,12.73],[1973.4,12.65],[1973.65,12.68],[1973.9,12.64],[1974.4,12.64],[1974.7,12.6],[1975.0,12.58],[1975.35,12.54],[1975.45,12.49],[1975.75,12.47],[1975.6,12.44],[1976.1,12.41],[1976.5,12.53],[1976.65,12.54],[1976.8,12.44],[1977.05,12.95],[1977.2,13.08],[1977.4,13.08],[1977.6,13.13],[1977.85,13.0],[1978.05,12.88],[1978.3,12.85],[1978.45,12.81],[1978.7,12.91],[1979.05,12.67],[1979.4,12.79],[1979.65,12.81],[1979.75,12.76],[1979.85,12.7],[1980.05,12.66],[1980.4,12.67],[1980.8,12.61],[1981.2,12.57],[1981.35,12.53],[1981.85,12.53],[1982.25,12.52],[1982.75,12.44],[1982.95,12.46],[1983.4,12.67],[1983.55,12.64],[1983.8,12.49],[1984.0,12.55],[1984.35,12.46],[1984.7,12.48],[1984.85,12.47],[1985.1,12.4],[1985.5,12.33],[1985.7,12.3],[1986.0,12.28],[1986.4,12.19],[1986.75,12.14],[1986.9,12.11],[1987.15,12.06],[1987.45,12.01],[1987.7,11.97],[1987.85,11.91],[1988.3,11.83],[1988.55,11.78],[1988.9,11.79],[1989.35,11.66],[1989.6,11.66],[1989.95,11.64],[1990.2,11.61],[1990.45,11.74],[1990.6,11.56],[1990.7,11.5],[1991.05,11.44],[1991.3,11.67],[1990.45,11.33],[1991.6,11.34],[1991.95,11.19],[1992.15,11.19],[1992.4,11.19],[1992.65,11.16],[1993.05,10.99],[1992.8,11.12],[1993.2,11.31],[1993.3,11.5],[1993.45,11.61],[1993.55,11.45],[1993.85,11.36],[1993.95,11.26],[1994.1,11.24],[1994.15,11.71],[1994.2,11.87],[1994.2,11.96],[1994.35,12.34],[1994.5,12.39],[1994.6,12.25],[1994.9,12.18],[1995.0,12.13],[1995.3,12.2],[1995.55,12.11],[1995.8,12.2],[1995.95,12.06],[1996.2,12.08],[1996.3,12.15],[1996.6,12.04],[1996.85,11.97],[1997.1,12.13],[1997.35,12.08],[1997.65,12.11],[1997.9,12.06],[1997.25,12.01],[1998.0,12.72],[1998.1,12.6],[1998.2,12.51],[1998.35,12.44],[1998.55,12.53],[1998.75,12.46],[1999.0,12.39],[1999.25,12.32],[1999.5,12.25],[1999.8,12.2],[2000.05,12.15],[2000.3,12.11],[2000.55,12.06],[2000.95,12.01],[2001.2,11.97],[2001.55,11.94],[2001.95,11.97],[2002.05,12.13],[2002.45,12.13],[2002.7,12.08],[2003.1,11.94],[2001.9,12.44],[1998.15,12.34],[1998.65,12.34],[1999.15,12.34],[2003.2,12.34],[2003.25,12.74],[2003.45,12.67],[2003.6,12.64],[2003.8,12.76],[2003.95,12.86],[2004.05,13.07],[2004.2,13.08],[2004.35,13.0],[2004.45,12.93],[2004.55,12.86],[2004.65,12.81],[2004.8,12.74],[2004.9,12.69],[2005.05,12.62],[2005.3,12.72],[2005.45,12.67],[2005.55,12.62],[2005.85,12.57],[2003.3,12.71],[2003.55,12.76]];
const fPurple=[[1967.4,12.35],[1967.95,12.26],[1968.1,12.2],[1968.4,12.2],[1968.7,12.18],[1968.95,12.15],[1969.15,12.11],[1969.35,12.14],[1969.85,12.21],[1972.2,12.55],[1972.45,12.52],[1972.6,12.48],[1973.0,12.49],[1973.35,12.47],[1973.5,12.46],[1974.15,12.41],[1974.35,12.41],[1978.35,12.18],[1978.8,12.1],[1979.0,12.02],[1990.5,11.28],[1991.6,11.16],[1992.0,11.03],[1992.1,11.03],[1992.3,10.94],[1992.4,11.1],[1992.65,11.03],[1992.85,11.04],[1993.3,11.45],[1993.35,11.67],[1993.55,11.67],[1993.7,11.58],[1993.85,11.58],[1993.95,11.61],[1994.1,11.68],[1994.2,11.88],[1994.4,12.11],[1994.6,12.08],[1994.9,12.0],[1995.25,12.04],[1995.5,12.01],[1995.75,11.99],[1996.0,11.95],[1996.25,11.93],[1996.6,11.92],[1996.85,11.87],[1996.95,12.4],[1997.25,12.37],[1997.35,12.31],[1997.5,12.27],[1997.9,12.25],[1998.1,12.22],[1998.4,12.22],[1998.65,12.2],[1999.05,12.2],[1999.45,12.18],[1999.8,12.17],[2000.25,12.15],[2000.55,12.14],[2000.95,12.12],[2001.35,12.11],[2001.75,12.07],[2002.1,12.06],[2002.5,12.03],[2002.9,11.98],[2003.1,11.94],[1998.3,12.28],[1997.6,12.33]];
const fRed=[[1966.35,11.77],[1966.75,11.77],[1967.05,11.77],[1969.4,12.32],[1969.5,12.27],[1969.85,12.18],[1970.5,12.61],[1970.9,12.6],[1971.1,12.53],[1971.45,12.54],[1971.8,12.55],[1974.55,12.38],[1974.8,12.39],[1975.2,12.34],[1975.6,12.32],[1976.2,12.19],[1976.65,12.15],[1976.8,12.11],[1977.05,12.05],[1977.25,12.01],[1977.4,11.97],[1977.7,11.94],[1977.85,11.88],[1978.05,11.81],[1978.35,12.18],[1978.6,12.1],[1979.4,12.0],[1979.65,11.98],[1979.8,11.94],[1980.05,11.91],[1980.4,11.92],[1980.8,11.85],[1981.2,11.9],[1981.85,11.83],[1982.25,11.81],[1982.8,11.77],[1982.95,11.74],[1983.4,11.9],[1983.8,11.86],[1984.3,11.83],[1984.6,11.8],[1985.0,11.77],[1985.45,11.68],[1985.75,11.6],[1986.4,11.54],[1986.75,11.52],[1986.95,11.51],[1987.65,11.44],[1987.95,11.41],[1988.45,11.39],[1988.9,11.38],[1989.35,11.34],[1989.65,11.32],[1990.0,11.31],[1990.3,11.27],[1990.8,11.21],[1991.25,11.2],[2003.05,12.07],[2003.2,12.37],[2003.3,12.45],[2003.55,12.44],[2003.8,12.39],[2004.05,12.35],[2004.35,12.32],[2004.6,12.29],[2004.85,12.28],[2005.1,12.26],[2005.35,12.25],[2005.6,12.24],[2005.75,12.22],[2003.7,12.28]];

const PURPLE='#8e44a8', RED='#e8141c', GREEN='#3aaa3a', BLUE='#2f7fc1';
const NS='http://www.w3.org/2000/svg';
const svg=document.getElementById('fig');
function el(tag,attrs,parent){const e=document.createElementNS(NS,tag);for(const k in attrs)e.setAttribute(k,attrs[k]);(parent||svg).appendChild(e);return e;}
function txt(str,x,y,size,anchor,parent){const t=el('text',{x:x,y:y,'font-size':size,'text-anchor':anchor||'middle','dominant-baseline':'central',fill:'#111'},parent);t.textContent=str;return t;}
function lin(d0,d1,p0,p1){return v=>p0+(v-d0)*(p1-p0)/(d1-d0);}

// ---------------- Panel (a) ----------------
(function(){
  const g=el('g',{});
  
  
  const L=159.3,R=1568,T=65,B=477.7;
  const x=lin(1966,2004,L,R), y=lin(0,250,T,B);
  const grid=el('g',{stroke:'#dcdcdc','stroke-width':1},g);
  
  
  for(let yr=1967;yr<=2003;yr++) el('line',{x1:x(yr),x2:x(yr),y1:T,y2:B},grid);
  [5,15,10,20,30,40,50,60,70,80,90,100,110,120,130,140,150,160,170,180,190,200,210,220,230,240].forEach(d=>el('line',{x1:L,x2:R,y1:y(d),y2:y(d)},grid));
  el('line',{x1:L,x2:R,y1:T,y2:T,stroke:'#ccc'},grid);
  const pts=el('g',{},g);
  
  
  const r=4;
  aCastYears.forEach((yr,i)=>{
    aDepths.forEach(d=>{
      el('circle',{cx:x(yr),cy:y(d),r:r,fill:d>=aCastRedFrom[i]?RED:PURPLE},pts);
    });
  });
  aProfiles.forEach(p=>{
    for(let d=p[2];d<=p[3];d+=5) el('circle',{cx:x(p[0]),cy:y(d),r:r,fill:p[1]==='r'?RED:PURPLE},pts);
  });
  aRows.forEach(rw=>el('rect',{x:x(rw[0])-3,y:y(rw[2])-4.5,width:x(rw[1])-x(rw[0])+3,height:9,fill:PURPLE},pts));
  aBars.forEach(b=>el('rect',{x:x(b[0])-4.5,y:y(b[1])-4.5,width:9,height:y(b[2])-y(b[1])+9,fill:b[3]==='r'?RED:PURPLE},pts));
  aGreen.forEach(p=>el('circle',{cx:x(p[0]),cy:y(p[1]),r:r,fill:GREEN},pts));
  const ax=el('g',{stroke:'#222','stroke-width':2},g);
  
  
  el('line',{x1:L,x2:L,y1:T,y2:B},ax); el('line',{x1:L,x2:R,y1:B,y2:B},ax);
  for(let yr=1967;yr<=2003;yr++) el('line',{x1:x(yr),x2:x(yr),y1:B,y2:B-14,'stroke-width':1.5},ax);
  for(let d=0;d<=240;d+=10) el('line',{x1:L,x2:L+16,y1:y(d),y2:y(d),'stroke-width':1.5},ax);
  [1970,1975,1980,1985,1990,1995,2000].forEach(yr=>{const t=txt(yr,x(yr),505,27,'middle',g);});
  [0,50,100,150,200,250].forEach(d=>{const t=txt(d,145,y(d),28,'end',g);});
  const xt=txt('Year',757,538,28,'middle',g);
  
  
  const yt=txt('Depth [m]',0,0,28,'middle',g); yt.setAttribute('transform','translate(60,297) rotate(-90)');
  
  
  const pl=txt('(a)',80,58,30,'middle',g);
  
  
})();

// ---------------- Panel (b) ----------------
(function(){
  const g=el('g',{});
  
  
  const L=1646.7,R=2002.7,T=58.3,B=484;
  const x=lin(0,1,L,R), y=lin(0,250,T,B);
  const grid=el('g',{stroke:'#dcdcdc','stroke-width':1},g);
  
  
  for(let i=1;i<=10;i++) el('line',{x1:x(i/10),x2:x(i/10),y1:T,y2:B},grid);
  for(let d=0;d<250;d+=10) el('line',{x1:L,x2:R,y1:y(d),y2:y(d)},grid);
  function line(arr,col,name){
    const p=el('polyline',{points:arr.map(a=>x(a[0])+','+y(a[1])).join(' '),fill:'none',stroke:col,'stroke-width':4,'stroke-linejoin':'round'},g);
    
    
  }
  line(bBlue,BLUE,'pk-line-blue');
  line(bPurple,PURPLE,'pk-line-purple');
  line(bRed,RED,'pk-line-red');
  line(bGreen,GREEN,'pk-line-green');
  const ax=el('g',{stroke:'#222','stroke-width':2},g);
  
  
  el('line',{x1:L,x2:L,y1:T,y2:B},ax); el('line',{x1:L,x2:R,y1:B,y2:B},ax);
  for(let i=1;i<=10;i++) el('line',{x1:x(i/10),x2:x(i/10),y1:B,y2:B-6,'stroke-width':1.5},ax);
  for(let d=0;d<250;d+=10) el('line',{x1:L,x2:L+5,y1:y(d),y2:y(d),'stroke-width':1.5},ax);
  ['0','0.2','0.4','0.6','0.8','1'].forEach((s,i)=>{const t=txt(s,x(i*0.2),502,24,'middle',g);});
  [0,50,100,150,200,250].forEach(d=>{const t=txt(d,1640,y(d),24,'end',g);});
  const xt=txt('pk (z)',1823,529,24,'middle',g);
  
  
  const pl=txt('(b)',1602,42,30,'middle',g);
  
  
})();

// ---------------- Scatter panels (c)-(f) ----------------
function scatterPanel(cfg){
  const g=el('g',{});
  
  
  const x=lin(1966,2006,cfg.L,cfg.R), y=lin(cfg.v0,cfg.v1,cfg.B,cfg.T);
  const grid=el('g',{stroke:'#d8d8d8','stroke-width':1},g);
  
  
  for(let yr=1967;yr<=2005;yr++) el('line',{x1:x(yr),x2:x(yr),y1:cfg.T,y2:cfg.B},grid);
  const n=Math.round((cfg.v1-cfg.v0)/cfg.minor);
  for(let i=1;i<=n;i++){const v=cfg.v0+i*cfg.minor; el('line',{x1:cfg.L,x2:cfg.R,y1:y(v),y2:y(v)},grid);}
  const mk=el('g',{},g);
  
  
  (cfg.purple||[]).forEach(p=>el('circle',{cx:x(p[0]),cy:y(p[1]),r:3.4,fill:PURPLE},mk));
  (cfg.red||[]).forEach(p=>el('circle',{cx:x(p[0]),cy:y(p[1]),r:3.4,fill:RED},mk));
  (cfg.green||[]).forEach(p=>el('circle',{cx:x(p[0]),cy:y(p[1]),r:3.4,fill:GREEN},mk));
  (cfg.black||[]).forEach(p=>el('circle',{cx:x(p[0]),cy:y(p[1]),r:6.6,fill:'none',stroke:'#111','stroke-width':1.6},mk));
  const ax=el('g',{stroke:'#222','stroke-width':2},g);
  
  
  el('line',{x1:cfg.L,x2:cfg.L,y1:cfg.T,y2:cfg.B},ax); el('line',{x1:cfg.L,x2:cfg.R,y1:cfg.B,y2:cfg.B,'stroke-width':2.5},ax);
  for(let yr=1967;yr<=2005;yr++) el('line',{x1:x(yr),x2:x(yr),y1:cfg.B,y2:cfg.B-8,'stroke-width':1.5},ax);
  for(let i=0;i<=n;i++){const v=cfg.v0+i*cfg.minor; el('line',{x1:cfg.L,x2:cfg.L+6,y1:y(v),y2:y(v),'stroke-width':1.5},ax);}
  [1970,1975,1980,1985,1990,1995,2000,2005].forEach(yr=>{const t=txt(yr,x(yr),cfg.xl,26,'middle',g);});
  cfg.yticks.forEach(v=>{const t=txt(v,cfg.L-14,y(parseFloat(v)),26,'end',g);});
  return g;
}
scatterPanel({name:'panel-c',L:152,R:962,T:605,B:1031,v0:0,v1:23,minor:0.5,xl:1058,yticks:['0','2','4','6','8','10','12','14','16','18','20','22'],black:cBlack,purple:cPurple,red:cRed,green:cGreen});
scatterPanel({name:'panel-d',L:1139,R:1951,T:606,B:1031,v0:3,v1:8,minor:0.5,xl:1058,yticks:['3','4','5','6','7','8'],black:dBlack,purple:dPurple,red:dRed});
scatterPanel({name:'panel-e',L:152,R:962,T:1129,B:1555,v0:6,v1:8.5,minor:0.1,xl:1582,yticks:['6','6.5','7','7.5','8','8.5'],black:eBlack,purple:ePurple,red:eRed});
scatterPanel({name:'panel-f',L:1139,R:1951,T:1129,B:1555,v0:10.5,v1:13.5,minor:0.1,xl:1582,yticks:['10.5','11','11.5','12','12.5','13','13.5'],black:fBlack,purple:fPurple,red:fRed});

let t;
t=txt('(c)',52,603,30,'middle');  
t=txt('(d)',1067,603,30,'middle');  
t=txt('(e)',55,1127,30,'middle');  
t=txt('(f)',1028,1123,30,'middle');  
t=txt('Temperature  [ºC]',0,0,28,'middle'); t.setAttribute('transform','translate(54,793) rotate(-90)');
 
t=el('text',{x:0,y:0,'font-size':28,'text-anchor':'middle','dominant-baseline':'central',fill:'#111',transform:'translate(50,1343) rotate(-90)'});
t.innerHTML='Salinity [g kg<tspan font-size="18" dy="-10">-1</tspan><tspan dy="10">]</tspan>';
 
t=txt('Year',551,1622,28,'middle');  
t=txt('Year',1553,1620,28,'middle');  
</script>
</body></html>
